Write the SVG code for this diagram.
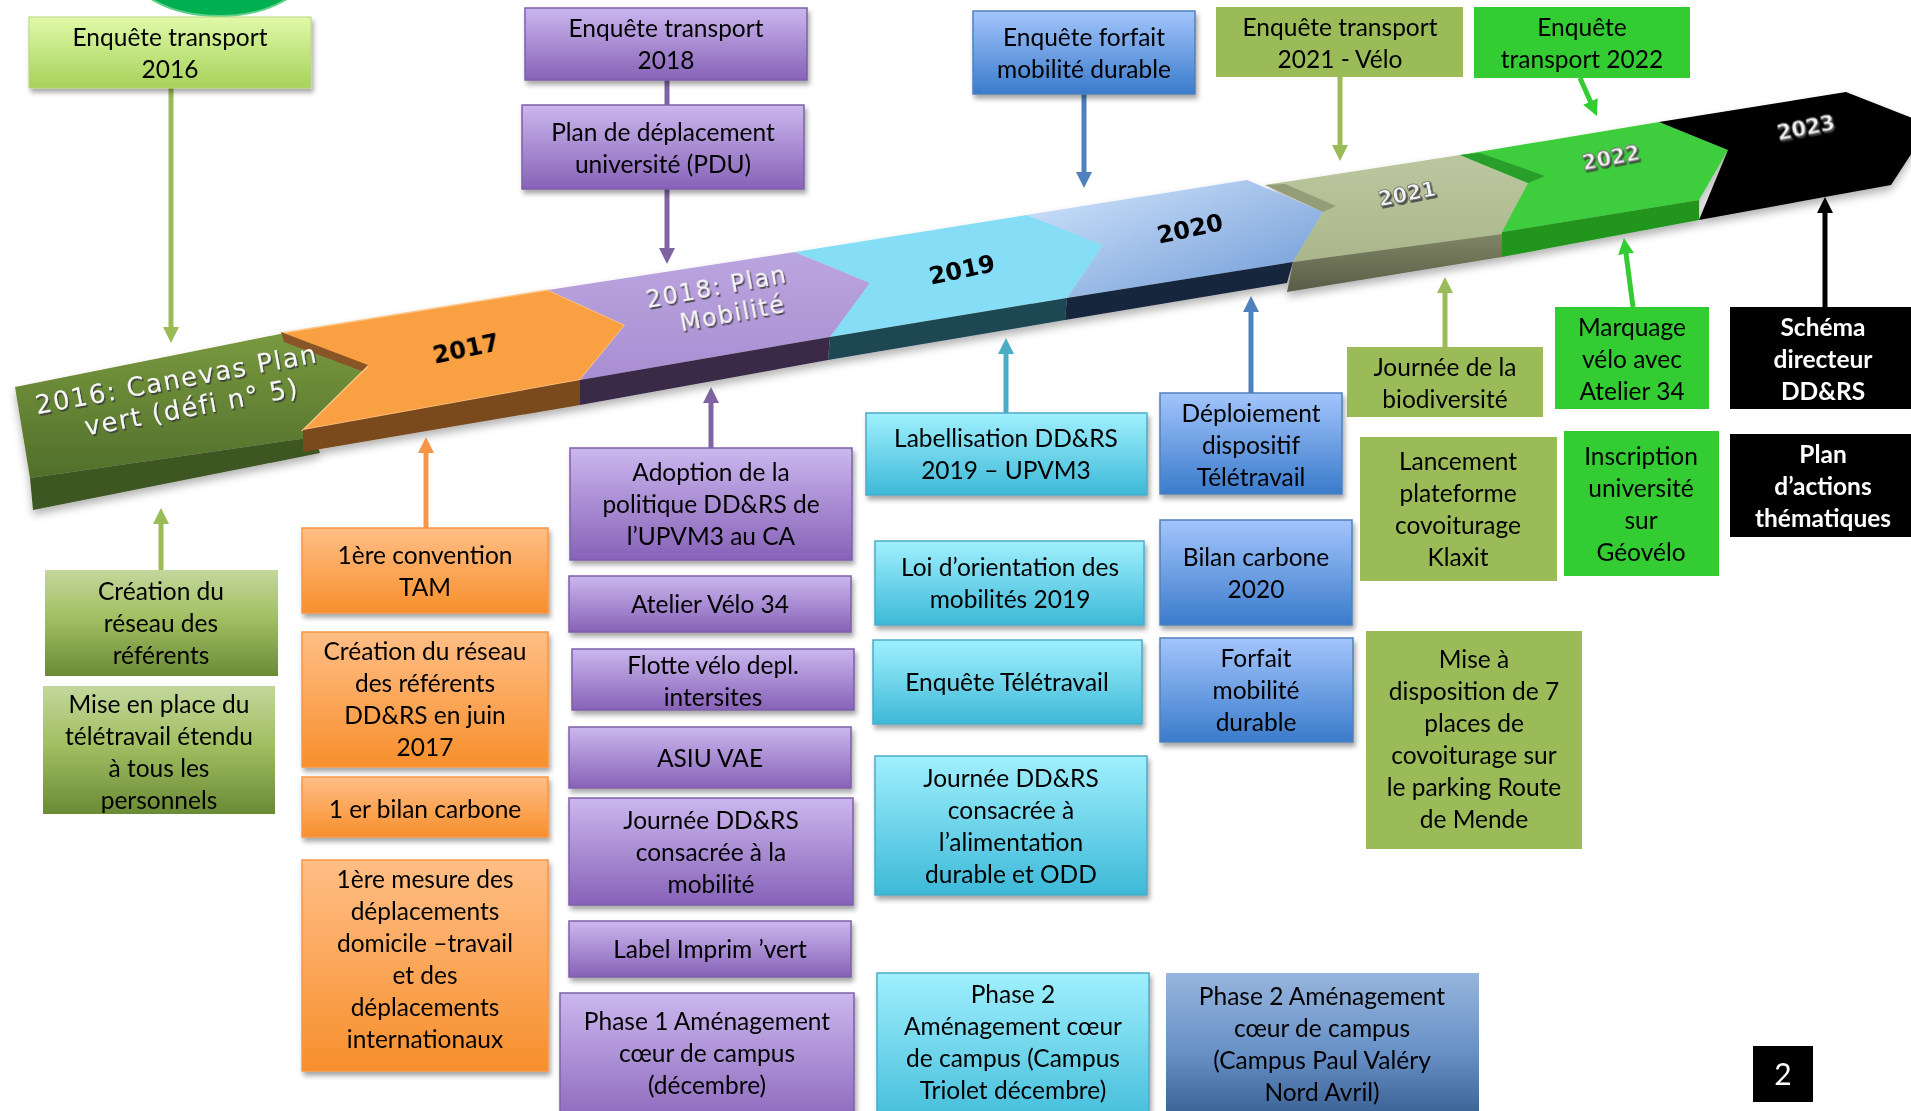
<svg xmlns="http://www.w3.org/2000/svg" width="1911" height="1111" viewBox="0 0 1911 1111">
<style>
.t{font-family:Lato,"Liberation Sans",sans-serif;font-size:24.5px;fill:#000;text-anchor:middle}
.tb{font-family:Lato,"Liberation Sans",sans-serif;font-size:24.5px;font-weight:bold;fill:#fff;text-anchor:middle}
.bt{font-family:"DejaVu Sans",Verdana,sans-serif;font-size:26px;letter-spacing:1.6px;fill:#f6f6f6;text-anchor:middle}
.bt2{font-family:"DejaVu Sans",Verdana,sans-serif;font-size:24px;letter-spacing:1.5px;fill:#f6f6f6;text-anchor:middle}
.yr{font-family:"DejaVu Sans",sans-serif;font-size:24px;font-weight:bold;fill:#000;text-anchor:middle}
.yw{font-family:"DejaVu Sans",sans-serif;font-size:21px;font-weight:bold;fill:#f4f4f4;stroke:#707070;stroke-width:0.8px;text-anchor:middle}
.pu{fill:url(#gPurple);stroke:#7d5fa8;stroke-width:1.5}
.or{fill:url(#gOrange);stroke:#f79646;stroke-width:1.5}
.cy{fill:url(#gCyan);stroke:#4bacc6;stroke-width:1.5}
.bl{fill:url(#gBlue);stroke:#4f81bd;stroke-width:1.5}
.ol{fill:#9bbb59}
.gr{fill:#33cc33}
.bk{fill:#000}
.gl{fill:url(#gGreenL)}
.c{stroke-width:5;fill:none}
</style>
<defs>
<linearGradient id="gPurple" x1="0" y1="0" x2="0" y2="1"><stop offset="0" stop-color="#cbb7ee"/><stop offset="1" stop-color="#8762b8"/></linearGradient>
<linearGradient id="gOrange" x1="0" y1="0" x2="0" y2="1"><stop offset="0" stop-color="#ffbe86"/><stop offset="1" stop-color="#f78f2c"/></linearGradient>
<linearGradient id="gCyan" x1="0" y1="0" x2="0" y2="1"><stop offset="0" stop-color="#a0f0fd"/><stop offset="1" stop-color="#3db9d8"/></linearGradient>
<linearGradient id="gBlue" x1="0" y1="0" x2="0" y2="1"><stop offset="0" stop-color="#a3c5fc"/><stop offset="1" stop-color="#3a7bcb"/></linearGradient>
<linearGradient id="gGreenL" x1="0" y1="0" x2="0" y2="1"><stop offset="0" stop-color="#c3d79c"/><stop offset="0.45" stop-color="#a2bf62"/><stop offset="1" stop-color="#6b8a35"/></linearGradient>
<linearGradient id="gLime" x1="0" y1="0" x2="0" y2="1"><stop offset="0" stop-color="#e0f9a8"/><stop offset="1" stop-color="#a6d25a"/></linearGradient>
<linearGradient id="gBlueDk" x1="0" y1="0" x2="0" y2="1"><stop offset="0" stop-color="#97b5dd"/><stop offset="0.5" stop-color="#6790c6"/><stop offset="1" stop-color="#2f5587"/></linearGradient>
<linearGradient id="bGreen" x1="0" y1="0" x2="0" y2="1"><stop offset="0" stop-color="#7a9a40"/><stop offset="1" stop-color="#516f2a"/></linearGradient>
<linearGradient id="bPurple" x1="0" y1="0" x2="0" y2="1"><stop offset="0" stop-color="#bba5df"/><stop offset="1" stop-color="#a88ed2"/></linearGradient>
<linearGradient id="bBlue" x1="0" y1="0" x2="1" y2="1"><stop offset="0" stop-color="#d3e6fd"/><stop offset="1" stop-color="#6c98d4"/></linearGradient>
<linearGradient id="bOlive" x1="0" y1="0" x2="0" y2="1"><stop offset="0" stop-color="#bcc79f"/><stop offset="1" stop-color="#aab68a"/></linearGradient>
<linearGradient id="bOliveS" x1="0" y1="0" x2="0" y2="1"><stop offset="0" stop-color="#7f8565"/><stop offset="1" stop-color="#5a5d47"/></linearGradient>
<filter id="sh" x="-10%" y="-10%" width="125%" height="140%"><feDropShadow dx="2" dy="4" stdDeviation="2.5" flood-color="#000" flood-opacity="0.35"/></filter>
<filter id="ts" x="-10%" y="-30%" width="120%" height="160%"><feDropShadow dx="1.5" dy="1.8" stdDeviation="0.4" flood-color="#3a3a3a" flood-opacity="0.9"/></filter>
<filter id="bsh" x="-5%" y="-20%" width="110%" height="150%"><feDropShadow dx="0" dy="5" stdDeviation="4" flood-color="#000" flood-opacity="0.3"/></filter>
<marker id="mOl" viewBox="0 0 16 16" refX="8" refY="8" markerWidth="16" markerHeight="16" markerUnits="userSpaceOnUse" orient="auto"><path d="M0,0 L16,8 L0,16 z" fill="#9bbb59"/></marker>
<marker id="mPu" viewBox="0 0 16 16" refX="8" refY="8" markerWidth="16" markerHeight="16" markerUnits="userSpaceOnUse" orient="auto"><path d="M0,0 L16,8 L0,16 z" fill="#8064a2"/></marker>
<marker id="mBl" viewBox="0 0 16 16" refX="8" refY="8" markerWidth="16" markerHeight="16" markerUnits="userSpaceOnUse" orient="auto"><path d="M0,0 L16,8 L0,16 z" fill="#4f81bd"/></marker>
<marker id="mCy" viewBox="0 0 16 16" refX="8" refY="8" markerWidth="16" markerHeight="16" markerUnits="userSpaceOnUse" orient="auto"><path d="M0,0 L16,8 L0,16 z" fill="#4bacc6"/></marker>
<marker id="mOr" viewBox="0 0 16 16" refX="8" refY="8" markerWidth="16" markerHeight="16" markerUnits="userSpaceOnUse" orient="auto"><path d="M0,0 L16,8 L0,16 z" fill="#f79646"/></marker>
<marker id="mGr" viewBox="0 0 16 16" refX="8" refY="8" markerWidth="16" markerHeight="16" markerUnits="userSpaceOnUse" orient="auto"><path d="M0,0 L16,8 L0,16 z" fill="#33cc33"/></marker>
<marker id="mBk" viewBox="0 0 16 16" refX="8" refY="8" markerWidth="16" markerHeight="16" markerUnits="userSpaceOnUse" orient="auto"><path d="M0,0 L16,8 L0,16 z" fill="#000"/></marker>
</defs>
<rect width="1911" height="1111" fill="#fff"/>
<ellipse cx="219" cy="-34" rx="90" ry="50" fill="#00b050" stroke="#5fd08a" stroke-width="2"/>

<!-- timeline band -->
<g id="band" filter="url(#bsh)">
  <polygon points="15,387 300,330 370,368 315,437 30,478" fill="url(#bGreen)"/>
  <polygon points="30,478 315,437 320,453 33,510" fill="#3e5622"/>
  <polygon points="282,333 548,290 625,325 580,380 303,430 367,367" fill="#f9a043" stroke="#ffc584" stroke-width="1.5"/>
  <polygon points="281,332 368,365 362,371 284,342" fill="#8a5527"/>
  <polygon points="303,430 580,380 580,405 303,452" fill="#7a4a1c"/>
  <polygon points="548,290 795,252 870,283 830,337 580,380 625,325" fill="url(#bPurple)"/>
  <polygon points="580,380 830,337 828,360 580,405" fill="#3a2b47"/>
  <polygon points="795,252 1027,215 1103,245 1067,298 830,337 870,283" fill="#85def5"/>
  <polygon points="830,337 1067,298 1065,320 828,360" fill="#1f4753"/>
  <polygon points="1027,215 1247,180 1323,212 1293,262 1067,298 1103,245" fill="url(#bBlue)"/>
  <polygon points="1067,298 1293,262 1287,283 1065,320" fill="#19273d"/>
  <polygon points="1265,185 1460,155 1528,183 1502,234 1293,262 1323,212" fill="url(#bOlive)"/>
  <polygon points="1265,185 1323,212 1336,206 1285,184" fill="#959d78"/>
  <polygon points="1293,262 1502,234 1502,257 1287,292" fill="url(#bOliveS)"/>
  <polygon points="1460,155 1659,122 1728,150 1699,200 1502,232 1528,183" fill="#3dcd3d"/>
  <polygon points="1460,155 1528,183 1545,176 1480,153" fill="#2a9e2a"/>
  <polygon points="1502,232 1699,200 1699,220 1502,257" fill="#22961f"/>
  <polygon points="1659,122 1846,92 1930,125 1891,185 1699,220 1728,150" fill="#000"/>
  <g filter="url(#ts)">
    <g transform="translate(178,388) rotate(-10.5)">
      <text class="bt" x="0" y="0">2016: Canevas Plan</text>
      <text class="bt" x="10" y="30">vert (défi n° 5)</text>
    </g>
    <g transform="translate(718,295) rotate(-10.5)">
      <text class="bt2" x="0" y="0">2018: Plan</text>
      <text class="bt2" x="11" y="29">Mobilité</text>
    </g>
  </g>
  <text class="yr" transform="translate(466,349) rotate(-12)" y="8">2017</text>
  <text class="yr" transform="translate(962,270) rotate(-12)" y="8">2019</text>
  <text class="yr" transform="translate(1190,229) rotate(-12)" y="8">2020</text>
  <g filter="url(#ts)">
    <text class="yw" transform="translate(1407,194) rotate(-11)" y="7">2021</text>
    <text class="yw" transform="translate(1611,158) rotate(-11)" y="7">2022</text>
    <text class="yw" transform="translate(1806,128) rotate(-11)" y="7">2023</text>
  </g>
</g>

<!-- connectors -->
<g id="connectors">
  <line class="c" x1="171" y1="88" x2="171" y2="335" stroke="#9bbb59" marker-end="url(#mOl)"/>
  <line class="c" x1="667" y1="80" x2="667" y2="105" stroke="#8064a2"/>
  <line class="c" x1="667" y1="189" x2="667" y2="256" stroke="#8064a2" marker-end="url(#mPu)"/>
  <line class="c" x1="1084" y1="94" x2="1084" y2="180" stroke="#4f81bd" marker-end="url(#mBl)"/>
  <line class="c" x1="1340" y1="77" x2="1340" y2="153" stroke="#9bbb59" marker-end="url(#mOl)"/>
  <line class="c" x1="1580" y1="78" x2="1593.7" y2="108.7" stroke="#33cc33" marker-end="url(#mGr)"/>
  <line class="c" x1="1825" y1="307" x2="1825" y2="205" stroke="#000" marker-end="url(#mBk)"/>
  <line class="c" x1="1633" y1="307" x2="1625" y2="246" stroke="#33cc33" marker-end="url(#mGr)"/>
  <line class="c" x1="1445" y1="347" x2="1445" y2="285" stroke="#9bbb59" marker-end="url(#mOl)"/>
  <line class="c" x1="1251" y1="393" x2="1251" y2="304" stroke="#4f81bd" marker-end="url(#mBl)"/>
  <line class="c" x1="1006" y1="413" x2="1006" y2="346" stroke="#4bacc6" marker-end="url(#mCy)"/>
  <line class="c" x1="711" y1="448" x2="711" y2="395" stroke="#8064a2" marker-end="url(#mPu)"/>
  <line class="c" x1="426" y1="528" x2="426" y2="445" stroke="#f79646" marker-end="url(#mOr)"/>
  <line class="c" x1="161" y1="570" x2="161" y2="516" stroke="#9bbb59" marker-end="url(#mOl)"/>
</g>

<!-- nodes -->
<g id="n-enq2016"><rect x="29" y="17" width="282" height="71" fill="url(#gLime)" stroke="#b5d67a" stroke-width="1" filter="url(#sh)"/><text class="t"><tspan x="170" y="46">Enquête transport</tspan><tspan x="170" y="78">2016</tspan></text></g>
<g id="n-enq2018"><rect class="pu" x="525" y="8" width="282" height="72" filter="url(#sh)"/><text class="t"><tspan x="666" y="37">Enquête transport</tspan><tspan x="666" y="69">2018</tspan></text></g>
<g id="n-pdu"><rect class="pu" x="522" y="105" width="282" height="84" filter="url(#sh)"/><text class="t"><tspan x="663" y="140.5">Plan de déplacement</tspan><tspan x="663" y="172.5">université (PDU)</tspan></text></g>
<g id="n-enqforfait"><rect class="bl" x="973" y="11" width="222" height="83" filter="url(#sh)"/><text class="t"><tspan x="1084" y="46">Enquête forfait</tspan><tspan x="1084" y="78">mobilité durable</tspan></text></g>
<g id="n-velo2021"><rect class="ol" x="1216" y="7" width="247" height="70"/><text class="t"><tspan x="1340" y="35.5">Enquête transport</tspan><tspan x="1340" y="67.5">2021 - Vélo</tspan></text></g>
<g id="n-enq2022"><rect class="gr" x="1474" y="7" width="216" height="71"/><text class="t"><tspan x="1582" y="36">Enquête</tspan><tspan x="1582" y="68">transport 2022</tspan></text></g>
<g id="n-schema"><rect class="bk" x="1730" y="307" width="181" height="102"/><text class="tb"><tspan x="1823" y="336">Schéma</tspan><tspan x="1823" y="368">directeur</tspan><tspan x="1823" y="400">DD&amp;RS</tspan></text></g>
<g id="n-plan"><rect class="bk" x="1730" y="434" width="181" height="103"/><text class="tb"><tspan x="1823" y="463">Plan</tspan><tspan x="1823" y="495">d’actions</tspan><tspan x="1823" y="527">thématiques</tspan></text></g>
<g id="n-marquage"><rect class="gr" x="1555" y="307" width="154" height="102"/><text class="t"><tspan x="1632" y="336">Marquage</tspan><tspan x="1632" y="368">vélo avec</tspan><tspan x="1632" y="400">Atelier 34</tspan></text></g>
<g id="n-geovelo"><rect class="gr" x="1564" y="431" width="155" height="145"/><text class="t"><tspan x="1641" y="465">Inscription</tspan><tspan x="1641" y="497">université</tspan><tspan x="1641" y="529">sur</tspan><tspan x="1641" y="561">Géovélo</tspan></text></g>
<g id="n-biodiv"><rect class="ol" x="1347" y="347" width="196" height="70"/><text class="t"><tspan x="1445" y="375.5">Journée de la</tspan><tspan x="1445" y="407.5">biodiversité</tspan></text></g>
<g id="n-klaxit"><rect class="ol" x="1360" y="437" width="197" height="144"/><text class="t"><tspan x="1458" y="470">Lancement</tspan><tspan x="1458" y="502">plateforme</tspan><tspan x="1458" y="534">covoiturage</tspan><tspan x="1458" y="566">Klaxit</tspan></text></g>
<g id="n-mende"><rect class="ol" x="1366" y="631" width="216" height="218"/><text class="t"><tspan x="1474" y="668">Mise à</tspan><tspan x="1474" y="700">disposition de 7</tspan><tspan x="1474" y="732">places de</tspan><tspan x="1474" y="764">covoiturage sur</tspan><tspan x="1474" y="796">le parking Route</tspan><tspan x="1474" y="828">de Mende</tspan></text></g>
<g id="n-bilan2020"><rect class="bl" x="1160" y="520" width="192" height="105" filter="url(#sh)"/><text class="t"><tspan x="1256" y="566">Bilan carbone</tspan><tspan x="1256" y="598">2020</tspan></text></g>
<g id="n-forfait"><rect class="bl" x="1160" y="638" width="193" height="104" filter="url(#sh)"/><text class="t"><tspan x="1256" y="667">Forfait</tspan><tspan x="1256" y="699">mobilité</tspan><tspan x="1256" y="731">durable</tspan></text></g>
<g id="n-phase2pv"><rect x="1166" y="973" width="313" height="160" fill="url(#gBlueDk)"/><text class="t"><tspan x="1322" y="1005">Phase 2 Aménagement</tspan><tspan x="1322" y="1037">cœur de campus</tspan><tspan x="1322" y="1069">(Campus Paul Valéry</tspan><tspan x="1322" y="1101">Nord Avril)</tspan></text></g>
<g id="n-page"><rect class="bk" x="1753" y="1046" width="60" height="56"/><text x="1783" y="1085" style="font-family:Lato,'Liberation Sans',sans-serif;font-size:30px;fill:#fff;text-anchor:middle">2</text></g>
<g id="n-deploy"><rect class="bl" x="1160" y="393" width="182" height="101" filter="url(#sh)"/><text class="t"><tspan x="1251" y="422">Déploiement</tspan><tspan x="1251" y="454">dispositif</tspan><tspan x="1251" y="486">Télétravail</tspan></text></g>
<g id="n-label2019"><rect class="cy" x="866" y="413" width="281" height="82" filter="url(#sh)"/><text class="t"><tspan x="1006" y="447">Labellisation DD&amp;RS</tspan><tspan x="1006" y="479">2019 – UPVM3</tspan></text></g>
<g id="n-adoption"><rect class="pu" x="570" y="448" width="282" height="112" filter="url(#sh)"/><text class="t"><tspan x="711" y="480.5">Adoption de la</tspan><tspan x="711" y="512.5">politique DD&amp;RS de</tspan><tspan x="711" y="544.5">l’UPVM3 au CA</tspan></text></g>
<g id="n-atelier"><rect class="pu" x="569" y="576" width="282" height="56" filter="url(#sh)"/><text class="t" x="710" y="613">Atelier Vélo 34</text></g>
<g id="n-flotte"><rect class="pu" x="572" y="649" width="282" height="61" filter="url(#sh)"/><text class="t"><tspan x="713" y="673.5">Flotte vélo depl.</tspan><tspan x="713" y="705.5">intersites</tspan></text></g>
<g id="n-asiu"><rect class="pu" x="569" y="727" width="282" height="61" filter="url(#sh)"/><text class="t" x="710" y="767">ASIU VAE</text></g>
<g id="n-journeemob"><rect class="pu" x="569" y="798" width="284" height="107" filter="url(#sh)"/><text class="t"><tspan x="711" y="828.5">Journée DD&amp;RS</tspan><tspan x="711" y="860.5">consacrée à la</tspan><tspan x="711" y="892.5">mobilité</tspan></text></g>
<g id="n-imprim"><rect class="pu" x="569" y="921" width="282" height="56" filter="url(#sh)"/><text class="t" x="710" y="958">Label Imprim ’vert</text></g>
<g id="n-phase1"><rect class="pu" x="560" y="993" width="294" height="140" filter="url(#sh)"/><text class="t"><tspan x="707" y="1030">Phase 1 Aménagement</tspan><tspan x="707" y="1062">cœur de campus</tspan><tspan x="707" y="1094">(décembre)</tspan></text></g>
<g id="n-loi"><rect class="cy" x="875" y="541" width="269" height="84" filter="url(#sh)"/><text class="t"><tspan x="1010" y="575.5">Loi d’orientation des</tspan><tspan x="1010" y="607.5">mobilités 2019</tspan></text></g>
<g id="n-enqtele"><rect class="cy" x="873" y="640" width="269" height="84" filter="url(#sh)"/><text class="t" x="1007" y="691">Enquête Télétravail</text></g>
<g id="n-alim"><rect class="cy" x="875" y="756" width="272" height="139" filter="url(#sh)"/><text class="t"><tspan x="1011" y="787">Journée DD&amp;RS</tspan><tspan x="1011" y="819">consacrée à</tspan><tspan x="1011" y="851">l’alimentation</tspan><tspan x="1011" y="883">durable et ODD</tspan></text></g>
<g id="n-phase2tr"><rect class="cy" x="877" y="973" width="272" height="160" filter="url(#sh)"/><text class="t"><tspan x="1013" y="1002.5">Phase 2</tspan><tspan x="1013" y="1034.5">Aménagement cœur</tspan><tspan x="1013" y="1066.5">de campus (Campus</tspan><tspan x="1013" y="1098.5">Triolet décembre)</tspan></text></g>
<g id="n-tam"><rect class="or" x="302" y="528" width="246" height="85" filter="url(#sh)"/><text class="t"><tspan x="425" y="564">1ère convention</tspan><tspan x="425" y="596">TAM</tspan></text></g>
<g id="n-reseau2017"><rect class="or" x="302" y="632" width="246" height="135" filter="url(#sh)"/><text class="t"><tspan x="425" y="660">Création du réseau</tspan><tspan x="425" y="692">des référents</tspan><tspan x="425" y="724">DD&amp;RS en juin</tspan><tspan x="425" y="756">2017</tspan></text></g>
<g id="n-bilan1"><rect class="or" x="302" y="777" width="246" height="60" filter="url(#sh)"/><text class="t" x="425" y="818">1 er bilan carbone</text></g>
<g id="n-mesure"><rect class="or" x="302" y="860" width="246" height="211" filter="url(#sh)"/><text class="t"><tspan x="425" y="887.5">1ère mesure des</tspan><tspan x="425" y="919.5">déplacements</tspan><tspan x="425" y="951.5">domicile –travail</tspan><tspan x="425" y="983.5">et des</tspan><tspan x="425" y="1015.5">déplacements</tspan><tspan x="425" y="1047.5">internationaux</tspan></text></g>
<g id="n-reseauref"><rect class="gl" x="45" y="570" width="233" height="106"/><text class="t"><tspan x="161" y="600">Création du</tspan><tspan x="161" y="632">réseau des</tspan><tspan x="161" y="664">référents</tspan></text></g>
<g id="n-teletravail"><rect class="gl" x="43" y="686" width="232" height="128"/><text class="t"><tspan x="159" y="713">Mise en place du</tspan><tspan x="159" y="745">télétravail étendu</tspan><tspan x="159" y="777">à tous les</tspan><tspan x="159" y="809">personnels</tspan></text></g>
</svg>
